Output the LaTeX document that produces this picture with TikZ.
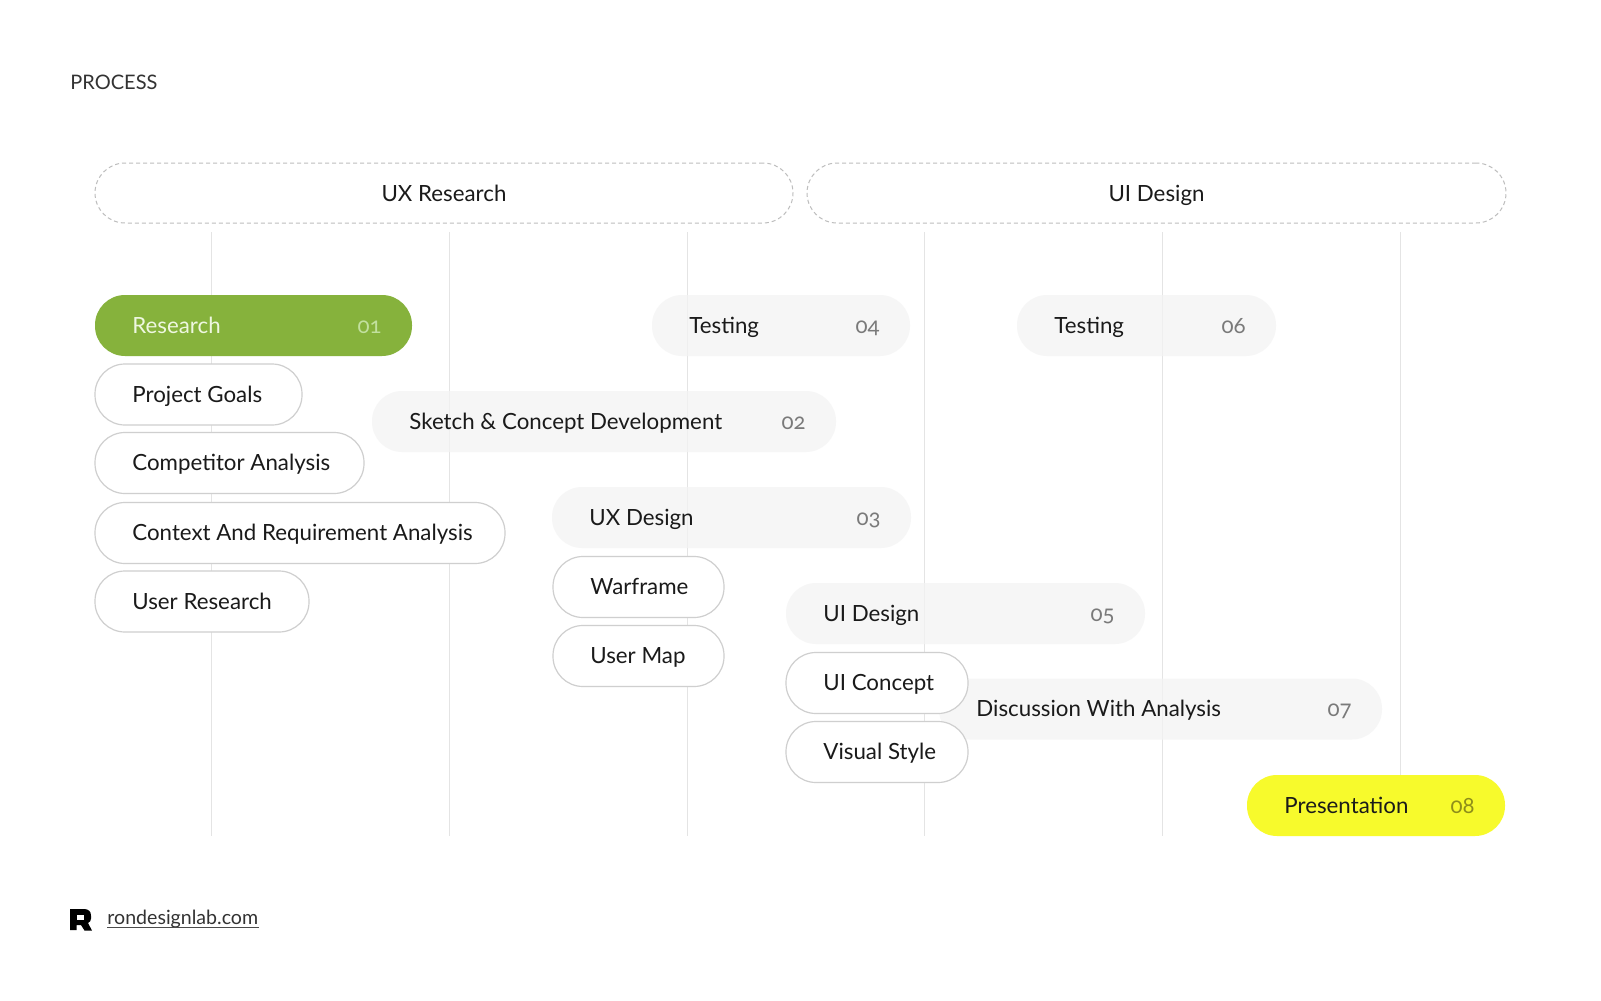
\documentclass[tikz,border=0pt]{standalone}
\usepackage{fontspec}
\setmainfont{Lato}[Numbers=OldStyle]
\usetikzlibrary{calc}
\definecolor{rdgreen}{HTML}{86B23C}
\definecolor{rdgreentxt}{HTML}{EEF7E0}
\definecolor{rdgreennum}{HTML}{C2E09E}
\definecolor{rdyellow}{HTML}{F7FA2C}
\definecolor{rdyellownum}{HTML}{8E8E1A}
\definecolor{rdgrey}{HTML}{F4F4F4}
\definecolor{rdborder}{HTML}{CFCFCF}
\definecolor{rdline}{HTML}{E4E4E4}
\definecolor{rddash}{HTML}{BDBDBD}
\definecolor{rdtext}{HTML}{1A1A1A}
\definecolor{rdnum}{HTML}{7A7A7A}
\tikzset{
  pillbase/.style={rectangle, rounded corners=15pt, minimum height=30.5pt, inner sep=0pt, outer sep=0pt},
  greypill/.style={pillbase, fill=rdgrey, fill opacity=0.75},
  whitepill/.style={pillbase, fill=white, draw=rdborder, line width=0.6pt},
  greenpill/.style={pillbase, fill=rdgreen},
  yellowpill/.style={pillbase, fill=rdyellow},
  pilltxt/.style={anchor=base west, inner sep=0pt, font=\fontsize{11.15pt}{13pt}\selectfont},
  greypilltxt/.style={pilltxt, text=rdtext},
  whitepilltxt/.style={pilltxt, text=rdtext},
  greenpilltxt/.style={pilltxt, text=rdgreentxt},
  yellowpilltxt/.style={pilltxt, text=rdtext},
  pillnum/.style={anchor=base east, inner sep=0pt, font=\fontsize{11.15pt}{13pt}\selectfont},
  greypillnum/.style={pillnum, text=rdnum},
  greenpillnum/.style={pillnum, text=rdgreennum},
  yellowpillnum/.style={pillnum, text=rdyellownum},
  phasebox/.style={rectangle, rounded corners=15pt, draw=rddash, line width=0.5pt, dash pattern=on 2pt off 1.5pt, minimum height=30pt, inner sep=0pt},
  phasetxt/.style={anchor=base, inner sep=0pt, text=rdtext, font=\fontsize{11.15pt}{13pt}\selectfont},
  gridline/.style={draw=rdline, line width=0.5pt},
}
\newcommand{\rdpill}[7]{%
  \pgfmathsetmacro\rdcx{(#3+#4)/2}%
  \pgfmathsetmacro\rdw{(#4-#3)*0.5}%
  \node[#1pill, minimum width=\rdw pt] (#2) at (\rdcx,#5) {};
  \node[#1pilltxt] (#2-t) at ([xshift=18.5pt,yshift=-3.9pt]#2.west) {#6};
  \if\relax\detokenize{#7}\relax\else
  \node[#1pillnum] (#2-n) at ([xshift=-15pt,yshift=-3.9pt]#2.east) {#7};
  \fi
}
\begin{document}
\begin{tikzpicture}[x=0.5pt,y=-0.5pt]
\useasboundingbox (0,0) rectangle (1601,1001);
\fill[white] (0,0) rectangle (1601,1001);

% title
\node[anchor=base west, inner sep=0pt, text=black!80, font=\fontsize{10pt}{12pt}\selectfont] (title) at (70,89) {PROCESS};

% phase boxes
\node[phasebox, minimum width=349pt] (uxr) at (444,193) {};
\node[phasetxt] (uxr-t) at (444,201.5) {UX Research};
\node[phasebox, minimum width=349.5pt] (uid) at (1156.5,193) {};
\node[phasetxt] (uid-t) at (1156.5,201.5) {UI Design};

% grid lines
\foreach \i/\xx in {1/211,2/449,3/687,4/924,5/1162,6/1400}{
  \coordinate (g\i top) at (\xx,232);
  \coordinate (g\i bot) at (\xx,836);
  \draw[gridline] (g\i top) -- (g\i bot);
}

% grey pills
\rdpill{grey}{t04}{652}{910}{325.5}{Testing}{04}
\rdpill{grey}{t06}{1017}{1276}{325.5}{Testing}{06}
\rdpill{grey}{sk}{372}{836}{421.5}{Sketch \& Concept Development}{02}
\rdpill{grey}{uxd}{552}{911}{517.5}{UX Design}{03}
\rdpill{grey}{uidp}{786}{1145}{613.5}{UI Design}{05}
\rdpill{grey}{disc}{939}{1382}{709}{Discussion With Analysis}{07}

% green / yellow
\rdpill{green}{res}{95}{412}{325.5}{Research}{01}
\rdpill{yellow}{pres}{1247}{1505}{805.5}{Presentation}{08}

% white pills
\rdpill{white}{goals}{95}{302}{394.5}{Project Goals}{}
\rdpill{white}{comp}{95}{364}{463}{Competitor Analysis}{}
\rdpill{white}{ctx}{95}{505}{533}{Context And Requirement Analysis}{}
\rdpill{white}{ures}{95}{309}{601.5}{User Research}{}
\rdpill{white}{wf}{553}{724}{587}{Warframe}{}
\rdpill{white}{um}{553}{724}{656}{User Map}{}
\rdpill{white}{uic}{786}{968}{683}{UI Concept}{}
\rdpill{white}{vs}{786}{968}{752}{Visual Style}{}

% footer logo
\fill[black] (70,909) -- (84,909) .. controls (88.5,909) and (91,911.5) .. (91,915.5) -- (91,918.5) .. controls (91,920.5) and (90,922) .. (88,923) -- (92,930.5) -- (84.5,930.5) -- (81,925) -- (76.5,925) -- (76.5,930) -- (70,930) -- cycle;
\fill[white] (76.5,914.5) rectangle (84,919.5);
\node[anchor=base west, inner sep=0pt, text=black!80, font=\fontsize{9.8pt}{12pt}\selectfont] (url) at (107,924) {rondesignlab.com};
\draw[black!70, line width=0.5pt] ([yshift=-1.6pt]url.base west) -- ([yshift=-1.6pt]url.base east);
\end{tikzpicture}
\end{document}
